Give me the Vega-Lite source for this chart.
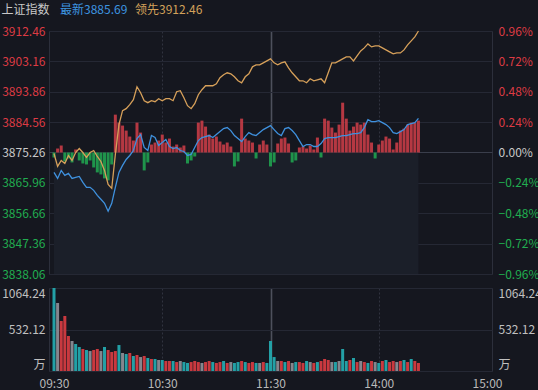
{
"$schema": "https://vega.github.io/schema/vega-lite/v6.json",
"background": "#15171f",
"padding": 0,
"columns": 1,
"align": "none",
"spacing": 5,
"config": {"view": {"stroke": null}, "font": "Noto Sans CJK SC", "axis": {"labelFont": "Noto Sans CJK SC", "labelFontSize": 12, "domain": false, "ticks": false, "title": null}},
"datasets": {"d": [
{"m":0,"p":3869.16,"l":3874.96,"b":3873.73,"v":1064.24,"c":"g"},
{"m":2,"p":3867.33,"l":3870.99,"b":3876.48,"v":872,"c":"n"},
{"m":4,"p":3869.77,"l":3872.82,"b":3877.40,"v":641,"c":"r"},
{"m":6,"p":3868.25,"l":3871.91,"b":3872.51,"v":705,"c":"r"},
{"m":8,"p":3868.86,"l":3874.35,"b":3873.43,"v":449,"c":"r"},
{"m":10,"p":3867.33,"l":3872.82,"b":3872.21,"v":385,"c":"n"},
{"m":12,"p":3867.64,"l":3875.26,"b":3876.18,"v":346,"c":"g"},
{"m":14,"p":3867.94,"l":3876.48,"b":3872.82,"v":308,"c":"g"},
{"m":16,"p":3866.11,"l":3875.26,"b":3871.90,"v":282,"c":"r"},
{"m":18,"p":3864.59,"l":3873.74,"b":3871.60,"v":269,"c":"g"},
{"m":20,"p":3864.59,"l":3875.26,"b":3872.82,"v":256,"c":"n"},
{"m":22,"p":3863.67,"l":3875.87,"b":3870.68,"v":269,"c":"r"},
{"m":24,"p":3862.15,"l":3874.04,"b":3869.16,"v":282,"c":"r"},
{"m":26,"p":3860.93,"l":3872.52,"b":3868.55,"v":256,"c":"n"},
{"m":28,"p":3859.71,"l":3869.77,"b":3867.33,"v":308,"c":"g"},
{"m":30,"p":3857.27,"l":3865.50,"b":3866.72,"v":269,"c":"r"},
{"m":32,"p":3859.71,"l":3864.28,"b":3871.60,"v":244,"c":"r"},
{"m":34,"p":3864.59,"l":3874.65,"b":3886.85,"v":256,"c":"r"},
{"m":36,"p":3869.16,"l":3883.80,"b":3884.41,"v":333,"c":"g"},
{"m":38,"p":3871.30,"l":3888.07,"b":3883.50,"v":231,"c":"n"},
{"m":40,"p":3873.13,"l":3888.68,"b":3881.97,"v":218,"c":"g"},
{"m":42,"p":3874.35,"l":3889.90,"b":3880.14,"v":231,"c":"r"},
{"m":44,"p":3875.87,"l":3891.43,"b":3878.92,"v":192,"c":"g"},
{"m":46,"p":3879.53,"l":3895.39,"b":3884.41,"v":205,"c":"r"},
{"m":48,"p":3880.75,"l":3893.56,"b":3881.36,"v":179,"c":"n"},
{"m":50,"p":3876.79,"l":3891.12,"b":3869.77,"v":192,"c":"r"},
{"m":52,"p":3875.87,"l":3890.51,"b":3872.21,"v":167,"c":"g"},
{"m":54,"p":3880.45,"l":3891.12,"b":3877.70,"v":154,"c":"r"},
{"m":56,"p":3879.84,"l":3890.82,"b":3878.31,"v":154,"c":"g"},
{"m":58,"p":3877.40,"l":3891.73,"b":3878.92,"v":141,"c":"n"},
{"m":60,"p":3878.31,"l":3891.12,"b":3880.75,"v":141,"c":"g"},
{"m":62,"p":3879.23,"l":3891.73,"b":3878.31,"v":128,"c":"r"},
{"m":64,"p":3877.09,"l":3891.73,"b":3879.53,"v":128,"c":"r"},
{"m":66,"p":3876.48,"l":3891.12,"b":3877.09,"v":128,"c":"g"},
{"m":68,"p":3876.79,"l":3893.87,"b":3877.70,"v":115,"c":"r"},
{"m":70,"p":3875.87,"l":3894.17,"b":3876.79,"v":128,"c":"n"},
{"m":72,"p":3875.57,"l":3892.04,"b":3877.40,"v":115,"c":"g"},
{"m":74,"p":3874.35,"l":3889.60,"b":3871.90,"v":103,"c":"g"},
{"m":76,"p":3874.65,"l":3888.68,"b":3872.82,"v":115,"c":"r"},
{"m":78,"p":3876.79,"l":3890.21,"b":3874.04,"v":128,"c":"r"},
{"m":80,"p":3878.92,"l":3892.95,"b":3884.41,"v":115,"c":"r"},
{"m":82,"p":3879.84,"l":3894.48,"b":3885.02,"v":103,"c":"n"},
{"m":84,"p":3880.14,"l":3895.70,"b":3883.19,"v":115,"c":"r"},
{"m":86,"p":3880.45,"l":3895.70,"b":3880.75,"v":128,"c":"r"},
{"m":88,"p":3879.84,"l":3895.70,"b":3879.53,"v":115,"c":"g"},
{"m":90,"p":3880.75,"l":3896.31,"b":3880.14,"v":103,"c":"r"},
{"m":92,"p":3881.67,"l":3898.14,"b":3878.62,"v":115,"c":"r"},
{"m":94,"p":3882.58,"l":3899.05,"b":3877.70,"v":128,"c":"g"},
{"m":96,"p":3882.89,"l":3899.66,"b":3878.31,"v":103,"c":"r"},
{"m":98,"p":3881.97,"l":3899.36,"b":3877.09,"v":115,"c":"n"},
{"m":100,"p":3880.45,"l":3898.44,"b":3870.99,"v":103,"c":"g"},
{"m":102,"p":3879.53,"l":3897.22,"b":3872.51,"v":115,"c":"g"},
{"m":104,"p":3878.62,"l":3896.61,"b":3885.63,"v":128,"c":"r"},
{"m":106,"p":3880.14,"l":3898.44,"b":3879.53,"v":115,"c":"g"},
{"m":108,"p":3881.36,"l":3899.36,"b":3878.92,"v":103,"c":"r"},
{"m":110,"p":3880.75,"l":3901.49,"b":3878.31,"v":115,"c":"r"},
{"m":112,"p":3880.45,"l":3902.10,"b":3873.43,"v":103,"c":"g"},
{"m":114,"p":3881.36,"l":3902.10,"b":3877.70,"v":103,"c":"n"},
{"m":116,"p":3882.28,"l":3902.71,"b":3878.92,"v":115,"c":"r"},
{"m":118,"p":3882.89,"l":3903.32,"b":3877.70,"v":103,"c":"g"},
{"m":120,"p":3883.50,"l":3903.93,"b":3870.99,"v":385,"c":"g"},
{"m":122,"p":3882.28,"l":3902.71,"b":3872.21,"v":179,"c":"g"},
{"m":124,"p":3881.06,"l":3902.10,"b":3878.01,"v":128,"c":"n"},
{"m":126,"p":3880.45,"l":3902.71,"b":3879.53,"v":128,"c":"r"},
{"m":128,"p":3882.58,"l":3903.02,"b":3879.84,"v":115,"c":"g"},
{"m":130,"p":3882.89,"l":3901.19,"b":3878.01,"v":128,"c":"r"},
{"m":132,"p":3881.97,"l":3899.66,"b":3872.21,"v":103,"c":"n"},
{"m":134,"p":3880.75,"l":3898.44,"b":3872.82,"v":115,"c":"g"},
{"m":136,"p":3878.92,"l":3897.22,"b":3876.79,"v":115,"c":"r"},
{"m":138,"p":3877.09,"l":3897.22,"b":3877.09,"v":103,"c":"r"},
{"m":140,"p":3877.70,"l":3896.61,"b":3876.48,"v":128,"c":"g"},
{"m":142,"p":3877.70,"l":3897.83,"b":3877.40,"v":115,"c":"n"},
{"m":144,"p":3877.09,"l":3897.22,"b":3876.18,"v":103,"c":"r"},
{"m":146,"p":3877.09,"l":3897.53,"b":3879.84,"v":115,"c":"g"},
{"m":148,"p":3878.01,"l":3897.83,"b":3873.73,"v":128,"c":"r"},
{"m":150,"p":3879.53,"l":3896.61,"b":3885.63,"v":154,"c":"r"},
{"m":152,"p":3879.84,"l":3899.66,"b":3885.02,"v":141,"c":"r"},
{"m":154,"p":3879.84,"l":3902.71,"b":3882.89,"v":115,"c":"n"},
{"m":156,"p":3879.84,"l":3902.71,"b":3881.36,"v":115,"c":"g"},
{"m":158,"p":3880.14,"l":3903.32,"b":3883.80,"v":128,"c":"n"},
{"m":160,"p":3880.45,"l":3903.93,"b":3890.51,"v":282,"c":"g"},
{"m":162,"p":3880.45,"l":3904.54,"b":3885.63,"v":128,"c":"g"},
{"m":164,"p":3880.75,"l":3904.54,"b":3881.97,"v":141,"c":"r"},
{"m":166,"p":3881.06,"l":3903.32,"b":3883.19,"v":167,"c":"g"},
{"m":168,"p":3881.06,"l":3904.85,"b":3884.41,"v":115,"c":"r"},
{"m":170,"p":3881.36,"l":3906.37,"b":3883.80,"v":128,"c":"n"},
{"m":172,"p":3882.89,"l":3907.29,"b":3884.41,"v":115,"c":"r"},
{"m":174,"p":3885.33,"l":3908.51,"b":3880.75,"v":103,"c":"g"},
{"m":176,"p":3884.72,"l":3907.59,"b":3878.31,"v":128,"c":"r"},
{"m":178,"p":3884.72,"l":3907.90,"b":3873.43,"v":115,"c":"n"},
{"m":180,"p":3885.02,"l":3907.90,"b":3877.70,"v":103,"c":"g"},
{"m":182,"p":3884.41,"l":3907.29,"b":3878.92,"v":128,"c":"r"},
{"m":184,"p":3883.80,"l":3906.68,"b":3880.14,"v":141,"c":"g"},
{"m":186,"p":3882.89,"l":3906.07,"b":3879.53,"v":115,"c":"r"},
{"m":188,"p":3881.36,"l":3905.46,"b":3876.18,"v":128,"c":"r"},
{"m":190,"p":3881.06,"l":3905.76,"b":3878.31,"v":115,"c":"n"},
{"m":192,"p":3881.67,"l":3905.76,"b":3881.97,"v":128,"c":"r"},
{"m":194,"p":3882.28,"l":3906.68,"b":3882.58,"v":141,"c":"g"},
{"m":196,"p":3883.80,"l":3908.20,"b":3883.80,"v":115,"c":"r"},
{"m":198,"p":3884.11,"l":3909.42,"b":3884.41,"v":154,"c":"g"},
{"m":200,"p":3884.41,"l":3910.64,"b":3884.41,"v":128,"c":"r"},
{"m":202,"p":3885.69,"l":3912.46,"b":3885.02,"v":103,"c":"r"}
]},
"concat": [
{
 "spacing": 7,
 "hconcat": [
  {"width": 1, "height": 19, "data": {"values": [{"t": "上证指数"}]},
   "mark": {"type": "point", "opacity": 0},
   "encoding": {
     "y": {"field": "t", "type": "nominal", "axis": {"orient": "left", "labelPadding": 0, "labelColor": "#c8c8c8", "labelFontSize": 12, "grid": false}}}},
  {"width": 1, "height": 19, "data": {"values": [{"t": "最新3885.69"}]},
   "mark": {"type": "text", "align": "left", "baseline": "middle", "fontSize": 12, "color": "#3d95e0"},
   "encoding": {"text": {"field": "t"},
     "x": {"datum": 0, "type": "quantitative", "scale": {"domain": [0, 1]}, "axis": null},
     "y": {"datum": 0, "type": "quantitative", "scale": {"domain": [-1, 1]}, "axis": null}}},
  {"width": 1, "height": 19, "data": {"values": [{"t": "领先3912.46"}]},
   "mark": {"type": "text", "align": "left", "baseline": "middle", "fontSize": 12, "color": "#d3a15a"},
   "encoding": {"text": {"field": "t"},
     "x": {"datum": 0, "type": "quantitative", "scale": {"domain": [0, 1]}, "axis": null},
     "y": {"datum": 0, "type": "quantitative", "scale": {"domain": [-1, 1]}, "axis": null}}}
 ]
},
{
 "width": 443, "height": 243,
 "view": {"stroke": "#2c2f3b"},
 "data": {"name": "d"},
 "resolve": {"axis": {"y": "independent"}},
 "layer": [
  {
   "data": {"values": [{}]},
   "mark": {"type": "rect", "color": "#1b1f29"},
   "encoding": {
    "x": {"datum": 0, "type": "quantitative"},
    "x2": {"datum": 202},
    "y": {"datum": 3838.06, "type": "quantitative", "axis": null},
    "y2": {"datum": 3875.26}
   }
  },
  {
   "mark": {"type": "bar", "size": 3, "opacity": 0.92},
   "encoding": {
    "x": {"field": "m", "type": "quantitative", "scale": {"domain": [0, 240], "nice": false, "zero": false},
          "axis": {"values": [60, 120, 180], "labels": false, "grid": true, "orient": "bottom",
                   "gridColor": {"condition": {"test": "datum.value == 120", "value": "#4d505c"}, "value": "#30333f"},
                   "gridDash": {"condition": {"test": "datum.value == 120", "value": []}, "value": [2, 2]},
                   "gridWidth": {"condition": {"test": "datum.value == 120", "value": 1.6}, "value": 1}}},
    "y": {"field": "b", "type": "quantitative", "scale": {"domain": [3838.06, 3912.46], "nice": false, "zero": false}, "axis": null},
    "y2": {"datum": 3875.26},
    "color": {"condition": {"test": "datum.b >= 3875.26", "value": "#c33c45"}, "value": "#1f9e4e"}
   }
  },
  {
   "mark": {"type": "line", "color": "#d6a05a", "strokeWidth": 1.3},
   "encoding": {
    "x": {"field": "m", "type": "quantitative"},
    "y": {"field": "l", "type": "quantitative",
          "axis": {"orient": "left", "values": [3838.06, 3847.36, 3856.66, 3865.96, 3875.26, 3884.56, 3893.86, 3903.16, 3912.46],
                   "labelExpr": "format(datum.value, '.2f')", "labelPadding": 4, "labelFlush": false, "grid": true,
                   "gridColor": {"condition": {"test": "abs(datum.value - 3875.26) < 0.01", "value": "#3a3e4b"}, "value": "#252834"},
                   "labelColor": {"condition": [{"test": "datum.value > 3875.3", "value": "#dd3b44"}, {"test": "datum.value < 3875.2", "value": "#21ad50"}], "value": "#c8c8c8"}}}
   }
  },
  {
   "mark": {"type": "line", "color": "#3f91de", "strokeWidth": 1.3},
   "encoding": {
    "x": {"field": "m", "type": "quantitative"},
    "y": {"field": "p", "type": "quantitative",
          "axis": {"orient": "right", "values": [3838.06, 3847.36, 3856.66, 3865.96, 3875.26, 3884.56, 3893.86, 3903.16, 3912.46],
                   "labelExpr": "format((datum.value - 3875.26) / 3875.26 * 100, '.2f') + '%'", "labelPadding": 6, "labelFlush": false, "grid": false,
                   "labelColor": {"condition": [{"test": "datum.value > 3875.3", "value": "#dd3b44"}, {"test": "datum.value < 3875.2", "value": "#21ad50"}], "value": "#c8c8c8"}}}
   }
  }
 ]
},
{
 "width": 443, "height": 83,
 "view": {"stroke": "#2c2f3b"},
 "data": {"name": "d"},
 "resolve": {"axis": {"y": "independent"}},
 "layer": [
  {
   "mark": {"type": "bar", "size": 3},
   "encoding": {
    "x": {"field": "m", "type": "quantitative", "scale": {"domain": [0, 240], "nice": false, "zero": false},
          "axis": {"values": [0, 60, 120, 180, 240], "grid": true, "labelFlush": false, "labelPadding": 7, "labelColor": "#b9b9b9",
                   "labelExpr": "datum.value == 0 ? '09:30' : datum.value == 60 ? '10:30' : datum.value == 120 ? '11:30' : datum.value == 180 ? '14:00' : '15:00'",
                   "gridOpacity": {"condition": {"test": "datum.value == 0 || datum.value == 240", "value": 0}, "value": 1},
                   "gridColor": {"condition": {"test": "datum.value == 120", "value": "#4d505c"}, "value": "#30333f"},
                   "gridDash": {"condition": {"test": "datum.value == 120", "value": []}, "value": [2, 2]},
                   "gridWidth": {"condition": {"test": "datum.value == 120", "value": 1.6}, "value": 1}}},
    "y": {"field": "v", "type": "quantitative", "scale": {"domain": [0, 1064.24], "nice": false},
          "axis": {"orient": "left", "values": [0, 532.12, 1064.24], "labelFlush": true, "labelPadding": 4, "labelColor": "#c0c0c0",
                   "labelExpr": "datum.value == 0 ? '万' : format(datum.value, '.2f')", "grid": true, "gridColor": "#252834"}},
    "color": {"field": "c", "type": "nominal", "scale": {"domain": ["r", "g", "n"], "range": ["#c9393f", "#23a0a6", "#85868e"]}, "legend": null}
   }
  },
  {
   "mark": {"type": "bar", "size": 3, "opacity": 0},
   "encoding": {
    "x": {"field": "m", "type": "quantitative"},
    "y": {"field": "v", "type": "quantitative",
          "axis": {"orient": "right", "values": [0, 532.12, 1064.24], "labelFlush": true, "labelPadding": 6, "labelColor": "#c0c0c0",
                   "labelExpr": "datum.value == 0 ? '万' : format(datum.value, '.2f')", "grid": false}}
   }
  }
 ]
}
]
}
